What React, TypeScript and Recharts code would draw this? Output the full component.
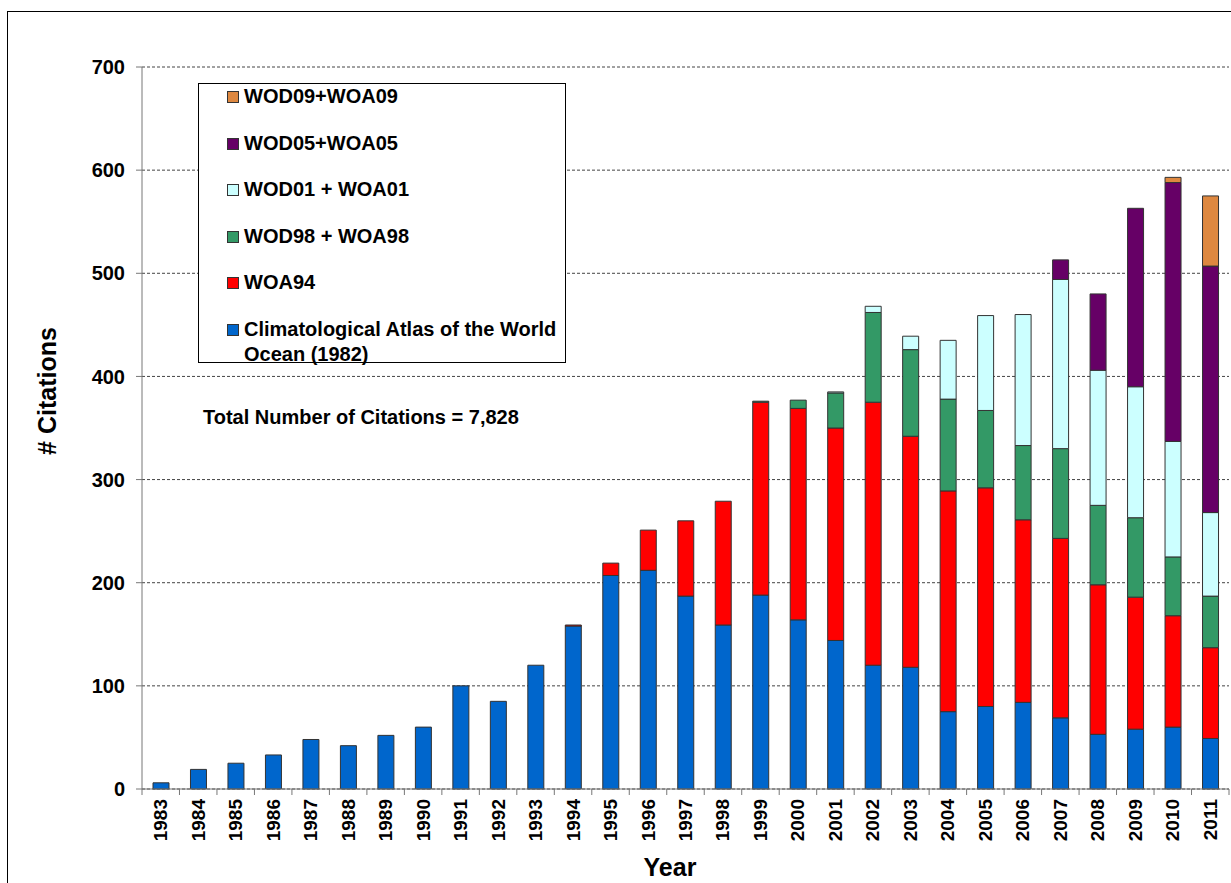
import React from 'react';
import { BarChart, Bar, XAxis, YAxis, CartesianGrid, Legend } from 'recharts';

const years = [
  '1983', '1984', '1985', '1986', '1987', '1988', '1989', '1990', '1991', '1992',
  '1993', '1994', '1995', '1996', '1997', '1998', '1999', '2000', '2001', '2002',
  '2003', '2004', '2005', '2006', '2007', '2008', '2009', '2010', '2011',
];

const atlas82 = [6, 19, 25, 33, 48, 42, 52, 60, 100, 85, 120, 158, 207, 212, 187, 159, 188, 164, 144, 120, 118, 75, 80, 84, 69, 53, 58, 60, 49];
const woa94 = [0, 0, 0, 0, 0, 0, 0, 0, 0, 0, 0, 1, 12, 39, 73, 120, 187, 205, 206, 255, 224, 214, 212, 177, 174, 145, 128, 108, 88];
const wod98 = [0, 0, 0, 0, 0, 0, 0, 0, 0, 0, 0, 0, 0, 0, 0, 0, 1, 8, 34, 87, 84, 89, 75, 72, 87, 77, 77, 57, 50];
const wod01 = [0, 0, 0, 0, 0, 0, 0, 0, 0, 0, 0, 0, 0, 0, 0, 0, 0, 0, 1, 6, 13, 57, 92, 127, 164, 131, 127, 112, 81];
const wod05 = [0, 0, 0, 0, 0, 0, 0, 0, 0, 0, 0, 0, 0, 0, 0, 0, 0, 0, 0, 0, 0, 0, 0, 0, 19, 74, 173, 251, 239];
const wod09 = [0, 0, 0, 0, 0, 0, 0, 0, 0, 0, 0, 0, 0, 0, 0, 0, 0, 0, 0, 0, 0, 0, 0, 0, 0, 0, 0, 5, 68];

const yTicks = [0, 100, 200, 300, 400, 500, 600, 700];

// bottom to top of each stack
const series = [
  { key: 'atlas82', name: 'Climatological Atlas of the World Ocean (1982)', color: '#0066CC' },
  { key: 'woa94', name: 'WOA94', color: '#FF0000' },
  { key: 'wod98', name: 'WOD98 + WOA98', color: '#339966' },
  { key: 'wod01', name: 'WOD01 + WOA01', color: '#CCFFFF' },
  { key: 'wod05', name: 'WOD05+WOA05', color: '#660066' },
  { key: 'wod09', name: 'WOD09+WOA09', color: '#DE8840' },
];

const data = years.map((year, i) => ({
  year,
  atlas82: atlas82[i],
  woa94: woa94[i],
  wod98: wod98[i],
  wod01: wod01[i],
  wod05: wod05[i],
  wod09: wod09[i],
}));

const FONT = "Arial, 'Liberation Sans', sans-serif";
const AXIS_COLOR = '#777';

function YearTick(props: any) {
  const { x, y, payload, index } = props;
  const half = payload && payload.offset ? payload.offset : 18.75;
  return (
    <g>
      <line x1={x - half} x2={x - half} y1={y} y2={y + 6} stroke={AXIS_COLOR} />
      {index === years.length - 1 && (
        <line x1={x + half} x2={x + half} y1={y} y2={y + 6} stroke={AXIS_COLOR} />
      )}
      <text
        x={x}
        y={y + 10}
        transform={`rotate(-90 ${x} ${y + 10})`}
        textAnchor="end"
        dominantBaseline="central"
        fontFamily={FONT}
        fontWeight={700}
        fontSize={19}
        fill="#000"
      >
        {payload.value}
      </text>
    </g>
  );
}

function LegendBox() {
  const items = [...series].reverse();
  return (
    <div
      style={{
        width: 366,
        height: 278,
        border: '1px solid #000',
        background: '#fff',
        fontFamily: FONT,
        fontWeight: 700,
        fontSize: 20,
        lineHeight: '25px',
        color: '#000',
      }}
    >
      {items.map((s) => (
        <div key={s.key} style={{ position: 'relative', height: 46.5, paddingLeft: 45 }}>
          <span
            style={{
              position: 'absolute',
              left: 28,
              top: 7,
              width: 10,
              height: 10,
              background: s.color,
              border: '1px solid #333',
            }}
          />
          <div style={{ width: 322 }}>{s.name}</div>
        </div>
      ))}
    </div>
  );
}

export default function App() {
  return (
    <div style={{ position: 'relative', width: 1231, height: 883, overflow: 'hidden', background: '#fff' }}>
      <style>{'body{margin:0}'}</style>
      <div
        style={{
          position: 'absolute',
          left: 7,
          top: 11,
          width: 1400,
          height: 1000,
          border: '1px solid #000',
        }}
      />
      <div style={{ position: 'absolute', left: 0, top: 0 }}>
        <BarChart
          width={1231}
          height={883}
          data={data}
          margin={{ top: 67, right: 2, left: 82, bottom: 0 }}
          barSize={16}
        >
          <CartesianGrid vertical={false} stroke="#444" strokeDasharray="3 2" />
          <XAxis
            dataKey="year"
            height={94}
            interval={0}
            tickLine={false}
            tickSize={0}
            tickMargin={0}
            axisLine={{ stroke: AXIS_COLOR }}
            tick={<YearTick />}
            label={() => (
              <text x={670} y={876} textAnchor="middle" fontFamily={FONT} fontWeight={700} fontSize={25} fill="#000">
                Year
              </text>
            )}
          />
          <YAxis
            width={60}
            domain={[0, 700]}
            ticks={yTicks}
            interval={0}
            tickSize={6}
            tickMargin={11}
            tickLine={{ stroke: AXIS_COLOR }}
            axisLine={{ stroke: AXIS_COLOR }}
            tick={{ fontFamily: FONT, fontWeight: 700, fontSize: 20, fill: '#000' }}
            label={() => (
              <text
                transform="translate(47 391) rotate(-90)"
                textAnchor="middle"
                dominantBaseline="central"
                fontFamily={FONT}
                fontWeight={700}
                fontSize={25}
                fill="#000"
              >
                # Citations
              </text>
            )}
          />
          <Legend
            layout="vertical"
            align="center"
            verticalAlign="middle"
            wrapperStyle={{ left: 198, top: 83, width: 368 }}
            content={() => <LegendBox />}
          />
          {series.map((s) => (
            <Bar
              key={s.key}
              dataKey={s.key}
              name={s.name}
              stackId="citations"
              fill={s.color}
              stroke="#333"
              strokeWidth={1}
              isAnimationActive={false}
            />
          ))}
        </BarChart>
      </div>
      <div
        style={{
          position: 'absolute',
          left: 203,
          top: 405,
          fontFamily: FONT,
          fontWeight: 700,
          fontSize: 20,
          lineHeight: '25px',
          color: '#000',
          whiteSpace: 'nowrap',
        }}
      >
        Total Number of Citations = 7,828
      </div>
    </div>
  );
}
